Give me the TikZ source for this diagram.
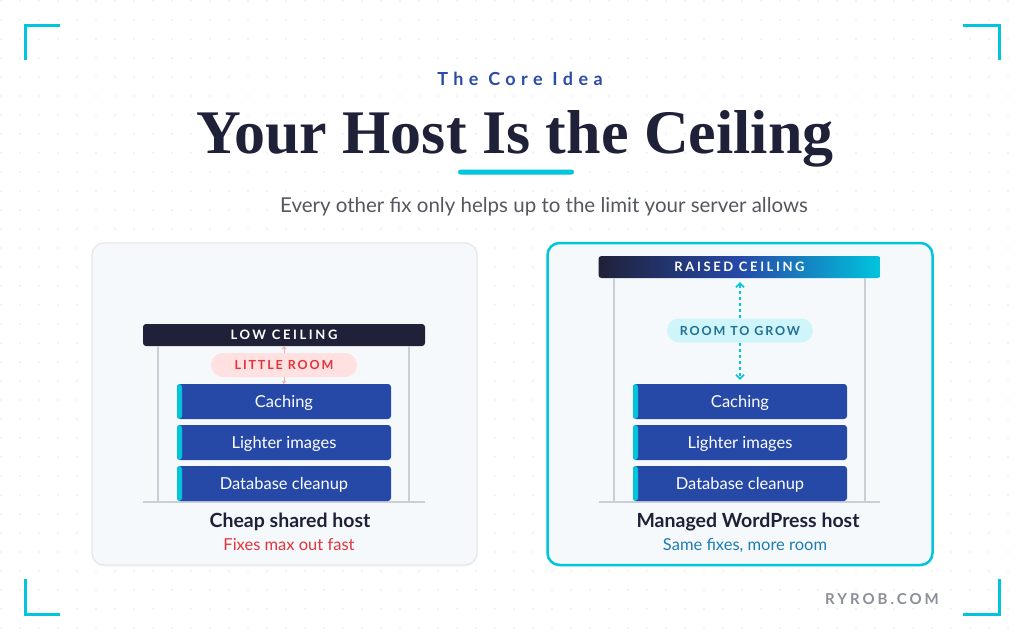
\documentclass[tikz,border=0pt]{standalone}
\usepackage{fontspec}
\setmainfont{Lato}
\newfontfamily\headserif{Liberation Serif}
\newfontfamily\kickertrack{Lato}[LetterSpace=30]
\newfontfamily\bartrack{Lato}[LetterSpace=20]
\newfontfamily\pilltrack{Lato}[LetterSpace=15]
\usepackage{xcolor}
\usetikzlibrary{arrows.meta,positioning,calc,shadows}
\definecolor{navy}{HTML}{1F2138}
\definecolor{accent}{HTML}{00C5DD}
\definecolor{fixblue}{HTML}{2649A8}
\definecolor{kickerblue}{HTML}{2C4BA6}
\definecolor{subgray}{HTML}{55575F}
\definecolor{postgray}{HTML}{CACED7}
\definecolor{cardbg}{HTML}{F6F9FB}
\definecolor{cardline}{HTML}{E4E7EC}
\definecolor{dotgray}{HTML}{E9EAEE}
\definecolor{pinkfill}{HTML}{FFE1E1}
\definecolor{pinktip}{HTML}{F4A9A9}
\definecolor{alertred}{HTML}{E3343B}
\definecolor{tealfill}{HTML}{CFF5FA}
\definecolor{tealtext}{HTML}{1F6F96}
\definecolor{notebl}{HTML}{1D7CB3}
\definecolor{brandgray}{HTML}{8B8D98}

\begin{document}
\begin{tikzpicture}[x=1pt, y=-1pt, every node/.style={inner sep=0pt},
  bracket/.style={draw=accent, line width=3pt},
  hostcard/.style={rounded corners=12pt, minimum width=385pt, minimum height=322pt, fill=cardbg,
    drop shadow={opacity=0.05, shadow xshift=0pt, shadow yshift=-2pt}},
  ceilbar/.style={rounded corners=3pt, minimum width=282pt, minimum height=22pt, text=white,
    text height=9pt, text depth=0pt, font=\bartrack\bfseries\fontsize{13}{15}\selectfont},
  hostpost/.style={draw=postgray, line width=1.2pt},
  hostfloor/.style={draw=postgray, line width=2pt},
  fixbox/.style={fill=fixblue, rounded corners=3pt, minimum width=214pt, minimum height=35pt,
    text=white, text height=11.5pt, text depth=0pt, font=\fontsize{16.5}{18}\selectfont,
    path picture={\fill[accent] (path picture bounding box.south west) rectangle ([xshift=5pt]path picture bounding box.north west);}},
  roompill/.style={rounded corners=12pt, minimum width=146pt, minimum height=24pt,
    text height=9pt, text depth=0pt, font=\pilltrack\bfseries\fontsize{12.5}{14}\selectfont},
  hostname/.style={anchor=base, text=navy, font=\bfseries\fontsize{19.5}{22}\selectfont},
  hostnote/.style={anchor=base, font=\fontsize{16.5}{19}\selectfont},
]
  \useasboundingbox (0,0) rectangle (1024,640);
  \fill[white] (0,0) rectangle (1024,640);
  % dotted backdrop
  \foreach \i in {0,...,53}
    \foreach \j in {0,...,33}
      \fill[dotgray] (1+19*\i, 1+19*\j) circle (0.9pt);

  % corner brackets
  \draw[bracket] (25,60) -- (25,25) -- (60,25);
  \draw[bracket] (963,25) -- (999,25) -- (999,60);
  \draw[bracket] (25,579) -- (25,614) -- (60,614);
  \draw[bracket] (963,614) -- (999,614) -- (999,579);

  % heading
  \node[anchor=base, text=kickerblue, font=\kickertrack\bfseries\fontsize{18}{21}\selectfont] (kicker) at (520,85) {The Core Idea};
  \node[anchor=base, text=navy, font=\headserif\bfseries\fontsize{62}{70}\selectfont] (title) at (515,153) {Your Host Is the Ceiling};
  \node[fill=accent, rounded corners=2.5pt, minimum width=116pt, minimum height=5pt] (rule) at (516,172) {};
  \node[anchor=base, text=subgray, font=\fontsize{20.5}{24}\selectfont] (subtitle) at (544,212) {Every other fix only helps up to the limit your server allows};

  % cheap shared host
  \node[hostcard, draw=cardline, line width=1.2pt] (lcard) at (284.5,404) {};
  \node[ceilbar, fill=navy] (lceil) at (284,335) {LOW CEILING};
  \draw[hostpost] (158,346) -- (158,502);
  \draw[hostpost] (409,346) -- (409,502);
  \draw[hostfloor] (143,502) -- (425,502);
  \node[fixbox] (lcache) at (284,401.5) {Caching};
  \node[fixbox] (limages) at (284,442.5) {Lighter images};
  \node[fixbox] (ldb) at (284,483.5) {Database cleanup};
  \node[roompill, fill=pinkfill, text=alertred] (lroom) at (284,365) {LITTLE ROOM};
  \draw[pinktip, line width=0.8pt, -{Stealth[length=3pt,width=5pt]}] (lroom.north) -- (lroom.north |- lceil.south);
  \draw[pinktip, line width=0.8pt, -{Stealth[length=3pt,width=5pt]}] (lroom.south) -- (lroom.south |- lcache.north);
  \node[hostname] (lname) at (290,527) {Cheap shared host};
  \node[hostnote, text=alertred] (lnote) at (289,550) {Fixes max out fast};

  % managed wordpress host
  \node[hostcard, draw=accent, line width=2.5pt] (rcard) at (740,404) {};
  \node[ceilbar, left color=navy, right color=accent, middle color=fixblue] (rceil) at (739.5,267) {RAISED CEILING};
  \draw[hostpost] (614,278) -- (614,502);
  \draw[hostpost] (865,278) -- (865,502);
  \draw[hostfloor] (599,502) -- (880,502);
  \node[fixbox] (rcache) at (740,401.5) {Caching};
  \node[fixbox] (rimages) at (740,442.5) {Lighter images};
  \node[fixbox] (rdb) at (740,483.5) {Database cleanup};
  \node[roompill, fill=tealfill, text=tealtext] (rroom) at (740,330.5) {ROOM TO GROW};
  \draw[accent, line width=1.5pt, dashed, shorten >=4pt, -{Straight Barb[length=4pt,width=8pt]}] (rroom.north) -- (rroom.north |- rceil.south);
  \draw[accent, line width=1.5pt, dashed, shorten >=4pt, -{Straight Barb[length=4pt,width=8pt]}] (rroom.south) -- (rroom.south |- rcache.north);
  \node[hostname] (rname) at (748,527) {Managed WordPress host};
  \node[hostnote, text=notebl] (rnote) at (745,550) {Same fixes, more room};

  \node[anchor=base, text=brandgray, font=\bartrack\bfseries\fontsize{15}{18}\selectfont] (brand) at (882,604) {RYROB.COM};
\end{tikzpicture}
\end{document}
